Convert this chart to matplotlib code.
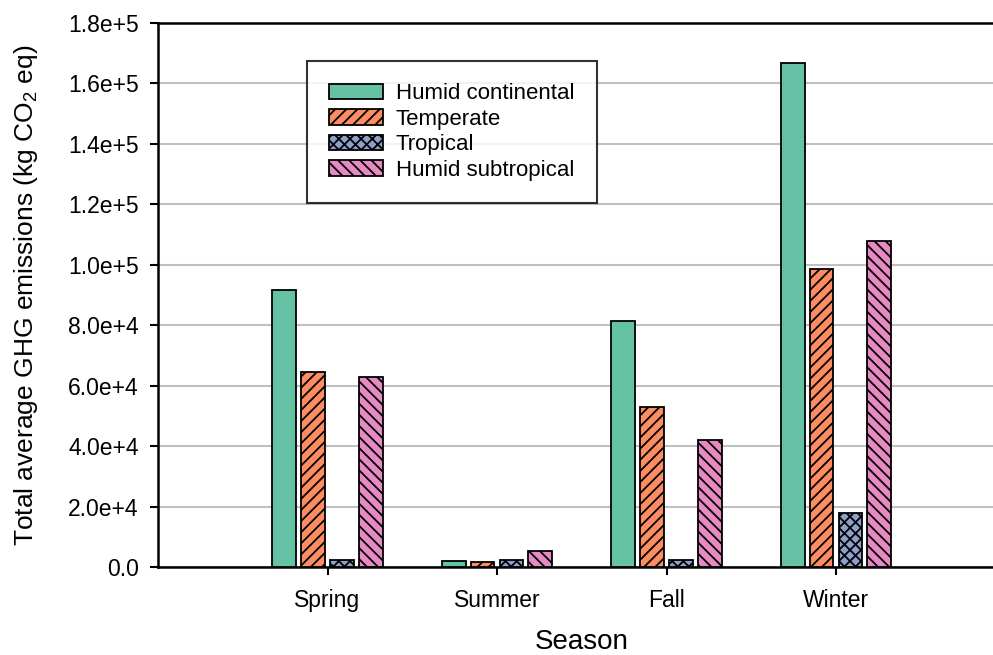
import matplotlib
matplotlib.use("Agg")
import matplotlib.pyplot as plt
import numpy as np
from matplotlib.ticker import FuncFormatter

plt.rcParams['font.family'] = ['Liberation Sans', 'DejaVu Sans']
plt.rcParams['mathtext.fontset'] = 'custom'
plt.rcParams['mathtext.rm'] = 'Liberation Sans'
plt.rcParams['mathtext.it'] = 'Liberation Sans'
plt.rcParams['mathtext.default'] = 'regular'
plt.rcParams['hatch.linewidth'] = 1.3

seasons = ["Spring", "Summer", "Fall", "Winter"]
series_names = ["Humid continental", "Temperate", "Tropical", "Humid subtropical"]
humid_continental = [91700, 2100, 81400, 166700]
temperate = [64400, 1500, 53000, 98600]
tropical = [2300, 2200, 2300, 17900]
humid_subtropical = [62900, 5300, 42000, 107900]
colors = ["#66C2A5", "#FC8D62", "#8DA0CB", "#E78AC3"]
hatches = [None, "///", "xxx", "\\\\\\"]
yticks = [0, 20000, 40000, 60000, 80000, 100000, 120000, 140000, 160000, 180000]

fig = plt.figure(figsize=(9.93, 6.55), dpi=100)
ax = fig.add_axes([158/993, 1-567/655, 847.5/993, 544/655])

x = np.arange(1, len(seasons) + 1)
width = 0.14
step = 0.17
all_series = [humid_continental, temperate, tropical, humid_subtropical]
for i, (vals, name) in enumerate(zip(all_series, series_names)):
    ax.bar(x + (i - 1.5) * step, vals, width, color=colors[i], edgecolor="black",
           linewidth=1.3, hatch=hatches[i], label=name, zorder=3)

ax.set_xlim(0, 5)
ax.set_ylim(0, 180000)
ax.set_yticks(yticks)

def fmt(v, pos):
    if v == 0:
        return "0.0"
    e = int(np.floor(np.log10(abs(v))))
    m = v / 10**e
    return f"{m:.1f}e+{e}"

ax.yaxis.set_major_formatter(FuncFormatter(fmt))
ax.set_xticks(x)
ax.set_xticklabels(seasons)
ax.tick_params(axis="both", labelsize=16.5, width=1.5, length=6, direction="out")
ax.tick_params(axis="x", pad=10)
ax.tick_params(axis="y", pad=8)
ax.yaxis.grid(True, color="#c0c0c0", linewidth=1.5, zorder=0)
ax.set_axisbelow(True)
for s in ["left", "bottom", "top"]:
    ax.spines[s].set_linewidth(1.8)
    ax.spines[s].set_color("black")
ax.spines["right"].set_visible(False)

ax.set_ylabel("Total average GHG emissions (kg CO$_2$ eq)", fontsize=19, labelpad=20)
ax.set_xlabel("Season", fontsize=20, labelpad=12)

leg = ax.legend(loc="upper left", bbox_to_anchor=(0.1758, 0.930), fontsize=16,
                frameon=True, fancybox=False, edgecolor="black",
                handlelength=2.4, handleheight=0.7, labelspacing=0.2,
                borderpad=1.0, handletextpad=0.6, borderaxespad=0)
leg.get_frame().set_linewidth(1.5)

fig.savefig("out.png", dpi=100)
